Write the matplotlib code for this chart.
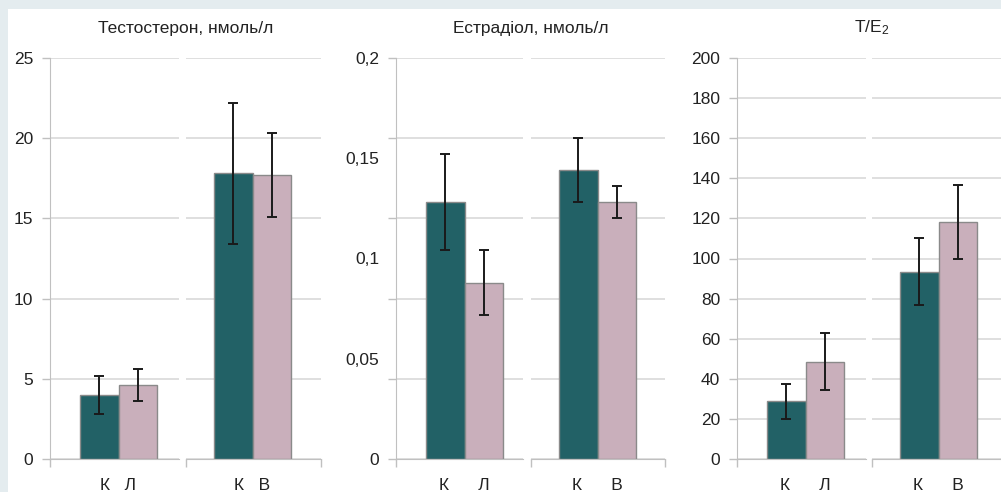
import numpy as np
import matplotlib
matplotlib.use("Agg")
import matplotlib.pyplot as plt
from matplotlib.patches import Rectangle

plt.rcParams["font.family"] = ["Liberation Sans", "DejaVu Sans"]
plt.rcParams["mathtext.default"] = "regular"

# data: each panel has two groups of two bars
TITLES = ["Тестостерон, нмоль/л", "Естрадіол, нмоль/л", "T/E$_2$"]
GROUP_LABELS = [["К   Л", "К   В"], ["К      Л", "К      В"], ["К      Л", "К      В"]]

testo_mean = [[4.0, 4.6], [17.8, 17.7]]
testo_err = [[1.2, 1.0], [4.4, 2.6]]
estr_mean = [[0.128, 0.088], [0.144, 0.128]]
estr_err = [[0.024, 0.016], [0.016, 0.008]]
ratio_mean = [[28.7, 48.5], [93.5, 118.2]]
ratio_err = [[8.7, 14.2], [16.9, 18.3]]

MEANS = [testo_mean, estr_mean, ratio_mean]
ERRS = [testo_err, estr_err, ratio_err]

YMAX = [25, 0.2, 200]
GRID_STEP = [5, 0.04, 20]
LABEL_TICKS = [np.arange(0, 26, 5), np.arange(0, 0.201, 0.05), np.arange(0, 201, 20)]
LABEL_TEXT = [
    ["0", "5", "10", "15", "20", "25"],
    ["0", "0,05", "0,1", "0,15", "0,2"],
    [str(v) for v in range(0, 201, 20)],
]

COLORS = ["#226166", "#c9afbb"]
EDGE = "#8a8a8a"
GRID = "#d9d9d9"
AXIS = "#c0c0c0"
FS = 12.5

W, H = 1001, 492
fig = plt.figure(figsize=(W / 100, H / 100), dpi=100)
fig.patch.set_facecolor("#e4ecef")
fig.patches.append(Rectangle((8 / W, 0), 1, (H - 9) / H, transform=fig.transFigure,
                             facecolor="white", edgecolor="none", zorder=-10))

# pixel layout: (left axes x0, x1), (right axes x0, x1)
PANELS = [((50, 179), (186, 321)), ((396, 523), (531, 665)), ((737, 866), (872, 1007))]
Y_TOP, Y_BOT = 58, 459
UNIT = 38.5  # bar width in px


def make_ax(x0, x1, gap_l, gap_r):
    ax = fig.add_axes([x0 / W, (H - Y_BOT) / H, (x1 - x0) / W, (Y_BOT - Y_TOP) / H])
    ax.set_xlim(-0.5 - gap_l / UNIT, 1.5 + gap_r / UNIT)
    ax.set_facecolor("none")
    for s in ["top", "right"]:
        ax.spines[s].set_visible(False)
    ax.spines["bottom"].set_color(AXIS)
    ax.spines["left"].set_color(AXIS)
    ax.xaxis.remove_overlapping_locs = False
    ax.yaxis.remove_overlapping_locs = False
    return ax


for p in range(3):
    (lx0, lx1), (rx0, rx1) = PANELS[p]
    for g in range(2):
        if g == 0:
            ax = make_ax(lx0, lx1, 30, lx1 - lx0 - 30 - 2 * UNIT)
        else:
            ax = make_ax(rx0, rx1, 28, rx1 - rx0 - 28 - 2 * UNIT)
        ax.set_ylim(0, YMAX[p])
        ax.bar([0, 1], MEANS[p][g], width=1.0, color=COLORS, edgecolor=EDGE,
               linewidth=1, zorder=2)
        ax.errorbar([0, 1], MEANS[p][g], yerr=ERRS[p][g], fmt="none", ecolor="#1a1a1a",
                    elinewidth=1.4, capsize=3.5, capthick=1.4, zorder=3)

        grid_ticks = np.arange(0, YMAX[p] + GRID_STEP[p] / 2, GRID_STEP[p])
        ax.set_yticks(grid_ticks, labels=[""] * len(grid_ticks))
        ax.yaxis.grid(True, color=GRID, linewidth=1.2, zorder=0)
        ax.set_axisbelow(True)
        if g == 0:
            # labels sit at their own values, gridlines follow the grid step
            ax.set_yticks(LABEL_TICKS[p], labels=LABEL_TEXT[p], minor=True)
            ax.tick_params(axis="y", which="major", length=6, color=AXIS, width=1)
            ax.tick_params(axis="y", which="minor", length=0, pad=12, labelsize=FS,
                           labelcolor="#222222")
        else:
            ax.spines["left"].set_visible(False)
            ax.tick_params(axis="y", which="both", length=0)

        xl = ax.get_xlim()
        ax.set_xticks([0.5], labels=[GROUP_LABELS[p][g]])
        ax.tick_params(axis="x", which="major", length=0, pad=14, labelsize=FS,
                       labelcolor="#222222")
        ends = [xl[0]] if g == 0 else [xl[0], xl[1]]
        ax.set_xticks(ends, minor=True)
        ax.tick_params(axis="x", which="minor", length=6, color=AXIS, width=1)

    fig.text((lx0 + min(rx1, 1007)) / 2 / W, 1 - 28 / H, TITLES[p], ha="center", va="center",
             fontsize=FS, color="#222222")

fig.savefig("out.png", dpi=100, facecolor=fig.get_facecolor())
